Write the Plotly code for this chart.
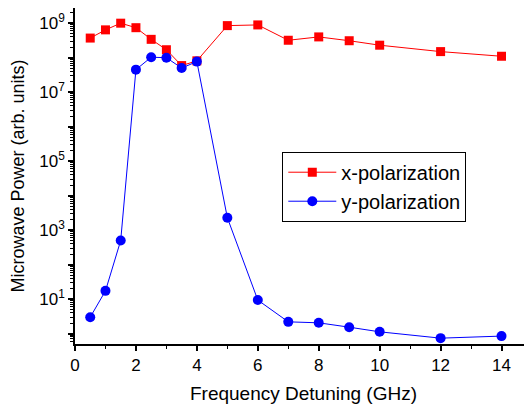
import plotly.graph_objects as go

freq = [0.5, 1, 1.5, 2, 2.5, 3, 3.5, 4, 5, 6, 7, 8, 9, 10, 12, 14]
x_pol = [3.7e8, 6.4e8, 1.0e9, 7.4e8, 3.4e8, 1.7e8, 5.9e7, 8.1e7,
         8.5e8, 8.9e8, 3.2e8, 4.0e8, 3.1e8, 2.3e8, 1.5e8, 1.1e8]
y_pol = [3.0, 17.4, 500, 4.5e7, 1.03e8, 1.0e8, 5.0e7, 7.7e7,
         2300, 9.4, 2.2, 2.06, 1.54, 1.13, 0.74, 0.85]

major_exps = list(range(0, 10))
ytickvals = [10 ** e for e in major_exps]
ytext = [f"10<sup>{e}</sup>" if e % 2 == 1 else "" for e in major_exps]
yminor = [k * 10 ** e for e in range(-1, 10) for k in range(2, 10)
          if 0.5 <= k * 10 ** e <= 3.1e9]

font = "Liberation Sans, Arial, sans-serif"

fig = go.Figure()
fig.add_trace(go.Scatter(
    x=freq, y=x_pol, name="x-polarization", mode="lines+markers",
    line=dict(color="#ff0000", width=1),
    marker=dict(symbol="square", size=9, color="#ff0000"),
))
fig.add_trace(go.Scatter(
    x=freq, y=y_pol, name="y-polarization", mode="lines+markers",
    line=dict(color="#0000ff", width=1),
    marker=dict(symbol="circle", size=10, color="#0000ff"),
))

fig.update_layout(
    width=524, height=403,
    margin=dict(l=67, r=0, t=0, b=67, autoexpand=False),
    paper_bgcolor="white", plot_bgcolor="white",
    font=dict(family=font, size=17, color="black"),
    showlegend=True,
    legend=dict(
        x=0.4536, y=0.5723, xanchor="left", yanchor="top",
        bordercolor="black", borderwidth=1, bgcolor="white",
        font=dict(size=20, family=font),
        tracegroupgap=0, itemwidth=48,
    ),
    xaxis=dict(
        range=[0, 15], tickmode="linear", tick0=0, dtick=2,
        showgrid=False, zeroline=False, automargin=False,
        showline=True, linecolor="black", linewidth=1.5,
        ticks="outside", ticklen=5, tickwidth=1.5, tickcolor="black",
        minor=dict(tickmode="linear", tick0=0, dtick=1, ticks="outside",
                   ticklen=3, tickwidth=1, tickcolor="black"),
        title=dict(text="Frequency Detuning (GHz)", font=dict(size=19), standoff=13),
        tickfont=dict(size=17),
    ),
    yaxis=dict(
        type="log", range=[-0.3, 9.44],
        tickmode="array", tickvals=ytickvals, ticktext=ytext,
        showgrid=False, zeroline=False, automargin=False,
        showline=True, linecolor="black", linewidth=1.5,
        ticks="outside", ticklen=5, tickwidth=1.5, tickcolor="black",
        minor=dict(tickmode="array", tickvals=yminor, ticks="outside",
                   ticklen=3, tickwidth=1, tickcolor="black"),
        title=dict(text="Microwave Power (arb. units)", font=dict(size=18), standoff=10),
        tickfont=dict(size=17),
    ),
)

fig.write_html("out.html")
